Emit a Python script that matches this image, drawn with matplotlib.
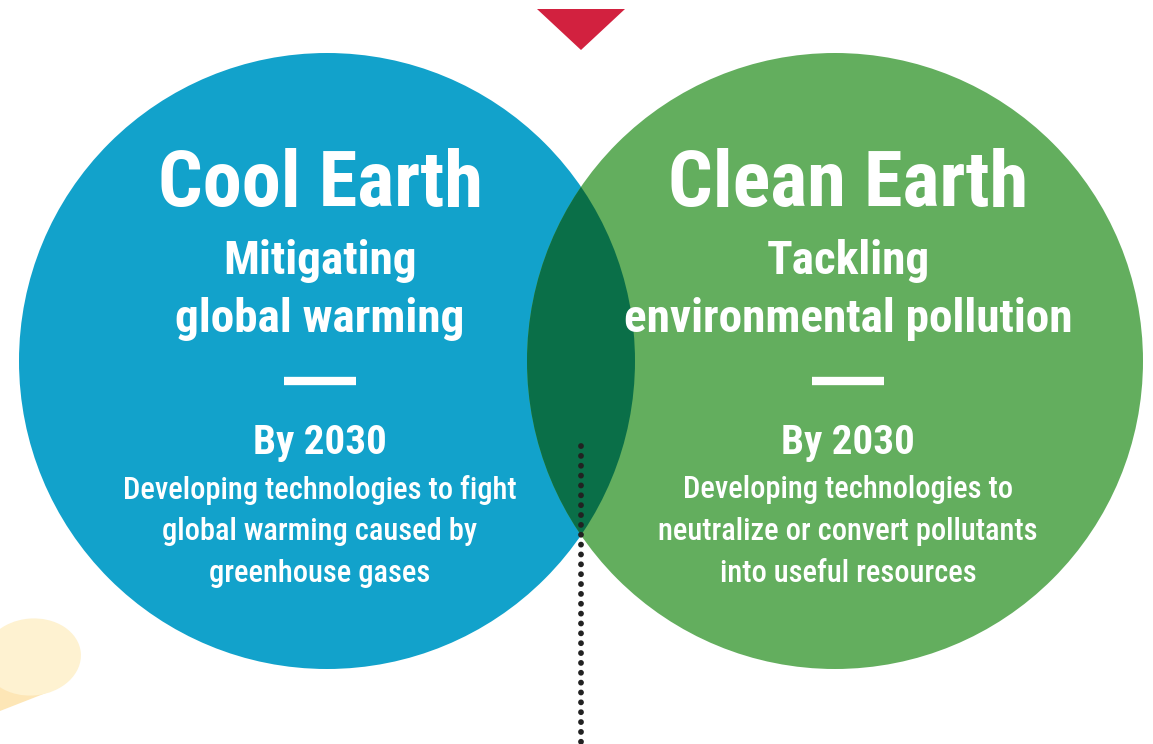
import matplotlib.pyplot as plt
from matplotlib.patches import Circle, Ellipse, Polygon
from matplotlib import font_manager

# Text content of the two circles
titles = ["Cool Earth", "Clean Earth"]
subtitles = [["Mitigating", "global warming"], ["Tackling", "environmental pollution"]]
goal_years = ["By 2030", "By 2030"]
goal_texts = [
    ["Developing technologies to fight", "global warming caused by", "greenhouse gases"],
    ["Developing technologies to", "neutralize or convert pollutants", "into useful resources"],
]
circle_colors = ["#12a2cb", "#63ae5e"]
overlap_color = "#0a6f48"

W, H = 1153, 744

available = {f.name for f in font_manager.fontManager.ttflist}
family = "DejaVu Sans"
for name in ["Roboto Condensed", "Liberation Sans Narrow", "DejaVu Sans Condensed", "Liberation Sans"]:
    if name in available:
        family = name
        break

fig = plt.figure(figsize=(W / 100, H / 100), dpi=100)
ax = fig.add_axes([0, 0, 1, 1])
ax.set_xlim(0, W)
ax.set_ylim(H, 0)
ax.set_aspect("equal")
ax.axis("off")

# soft yellow blob bottom-left
ax.add_patch(Polygon([(0, 668), (46, 693), (0, 711)], closed=True,
                     facecolor="#fde6b6", edgecolor="none", zorder=1))
ax.add_patch(Ellipse((32, 657), 98, 77, angle=-5, facecolor="#fef2d1",
                     edgecolor="none", zorder=2))

# red triangle marker at top
ax.add_patch(Polygon([(537, 9), (625, 9), (581, 50)], closed=True,
                     facecolor="#d2213f", edgecolor="none", zorder=2))

centers = [(327, 361), (835, 361)]
r = 308
left = Circle(centers[0], r, facecolor=circle_colors[0], edgecolor="none", zorder=3)
right = Circle(centers[1], r, facecolor=circle_colors[1], edgecolor="none", zorder=3)
ax.add_patch(left)
ax.add_patch(right)
lens = Circle(centers[1], r, facecolor=overlap_color, edgecolor="none", zorder=4)
ax.add_patch(lens)
lens.set_clip_path(left)

# dotted vertical line
ax.plot([581, 581], [446, 744], color="#222222", linewidth=4.2,
        linestyle=(0, (0.01, 1.68)), dash_capstyle="round", zorder=5)

text_x = [320, 848]
for i in range(2):
    x = text_x[i]
    ax.text(x, 185, titles[i], ha="center", va="center", color="white",
            fontsize=56.5, fontweight="bold", family=family, zorder=6)
    for j, line in enumerate(subtitles[i]):
        ax.text(x, 261 + 58 * j, line, ha="center", va="center", color="white",
                fontsize=34, fontweight="bold", family=family, zorder=6)
    ax.plot([x - 36, x + 36], [381, 381], color="white", linewidth=6,
            solid_capstyle="butt", zorder=6)
    ax.text(x, 443, goal_years[i], ha="center", va="center", color="white",
            fontsize=29.5, fontweight="bold", family=family, zorder=6)
    for j, line in enumerate(goal_texts[i]):
        ax.text(x, 490 + 42 * j, line, ha="center", va="center", color="white",
                fontsize=22, fontweight="medium", family=family, zorder=6)

fig.savefig("out.png", dpi=100)
